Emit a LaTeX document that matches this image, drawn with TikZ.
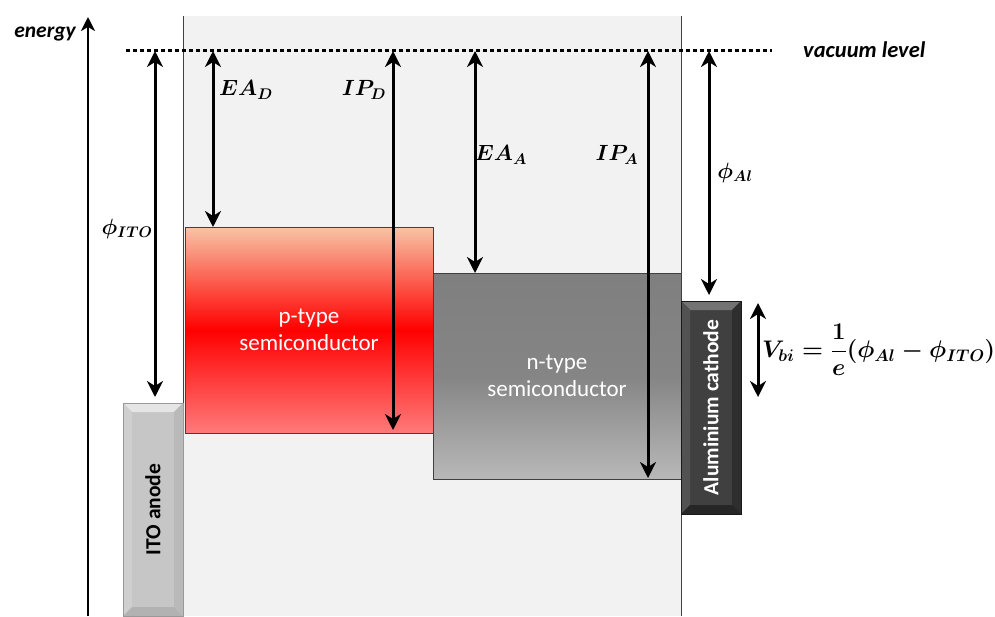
\RequirePackage{fix-cm}
\documentclass[tikz,border=0pt]{standalone}
\usepackage{amsmath}
\usepackage[no-math]{fontspec}
\setmainfont{Carlito}
\usetikzlibrary{arrows.meta,calc}

\definecolor{panelgray}{HTML}{F2F2F2}
\definecolor{ptop}{HTML}{F8C4A5}
\definecolor{pbot}{HTML}{FF7A7A}
\definecolor{ntop}{HTML}{7F7F7F}
\definecolor{nmid}{HTML}{858585}
\definecolor{nbot}{HTML}{B8B8B8}

% bevelled edges of an electrode node:
% #1 node, #2 depth, #3 top, #4 left, #5 right, #6 bottom, #7 outline
\newcommand\bevelfaces[7]{%
  \fill[#3] (#1.north west) -- (#1.north east) -- ($(#1.north east)+(-#2,#2)$) -- ($(#1.north west)+(#2,#2)$) -- cycle;
  \fill[#4] (#1.north west) -- ($(#1.north west)+(#2,#2)$) -- ($(#1.south west)+(#2,-#2)$) -- (#1.south west) -- cycle;
  \fill[#5] (#1.north east) -- ($(#1.north east)+(-#2,#2)$) -- ($(#1.south east)+(-#2,-#2)$) -- (#1.south east) -- cycle;
  \fill[#6] (#1.south west) -- ($(#1.south west)+(#2,-#2)$) -- ($(#1.south east)+(-#2,-#2)$) -- (#1.south east) -- cycle;
  \draw[#7, line width=0.8pt] (#1.north west) rectangle (#1.south east);
}

\begin{document}
\begin{tikzpicture}[x=1pt,y=-1pt,
  vaclevel/.style={line width=3pt, dash pattern=on 3.5pt off 3.5pt},
  gap/.style={line width=3pt,
    {Stealth[length=16pt,width=16pt,inset=5pt]}-{Stealth[length=16pt,width=16pt,inset=5pt]}},
  axisarrow/.style={line width=2.5pt, -{Stealth[length=14pt,width=14pt,inset=4pt]}},
  layer/.style={rectangle, outer sep=0pt, inner sep=0pt, draw=black!75, line width=1pt,
    text=white, align=center, font=\fontsize{23}{27}\selectfont},
  electrode/.style={rectangle, outer sep=0pt, inner sep=0pt, minimum width=60, minimum height=213},
  electrodetext/.style={inner sep=0pt, font=\bfseries\fontsize{21.5}{26}\selectfont, rotate=90},
  lab/.style={inner sep=0pt, font=\fontsize{22}{26}\selectfont\boldmath},
  note/.style={inner sep=0pt, font=\bfseries\itshape\fontsize{21.5}{25}\selectfont},
]
\useasboundingbox (0,0) rectangle (995,616);

% device region
\fill[panelgray] (183,16) rectangle (681,616);
\draw[line width=1pt, black!75] (183,16) -- (183,616);
\draw[line width=1pt, black!75] (681,16) -- (681,616);

% organic layers
\node[layer, minimum width=248, minimum height=206,
      top color=ptop, bottom color=pbot, middle color=red] (p) at (309,330)
      {p-type\\semiconductor};
\node[layer, minimum width=248, minimum height=206,
      top color=ntop, bottom color=nbot, middle color=nmid] (n) at (557,376)
      {n-type\\semiconductor};

% electrodes
\node[electrode, fill=gray!45] (ito) at (153,509.5) {};
\bevelfaces{ito}{9}{gray!20}{gray!38}{gray!55}{gray!60}{gray!80}
\node[electrodetext, text=black] (itolab) at (ito.center) {ITO anode};

\node[electrode, fill=black!75] (al) at (711,407.5) {};
\bevelfaces{al}{9}{black!55}{black!68}{black!82}{black!85}{black!90}
\node[electrodetext, text=white] (allab) at (al.center) {Aluminium cathode};

% energy axis
\coordinate (e0) at (88,616);
\coordinate (e1) at (88,17);
\draw[axisarrow] (e0) -- (e1);
\node[note, anchor=base east] (energy) at (76,37) {energy};

% vacuum level
\coordinate (vac0) at (126,50);
\coordinate (vac1) at (772,50);
\draw[vaclevel] (vac0) -- (vac1);
\node[note, font=\bfseries\itshape\fontsize{22.5}{26}\selectfont, anchor=base west] (vaclab) at (803,57) {vacuum level};

% energy gaps measured from the vacuum level
\coordinate (vITO) at (155,51);
\coordinate (vEAD) at (213,51);
\coordinate (vIPD) at (393,51);
\coordinate (vEAA) at (475,51);
\coordinate (vIPA) at (648,51);
\coordinate (vAl)  at (709,51);
\coordinate (vbi)  at (758,0);

\draw[gap, shorten >=6pt] (vITO) -- (vITO |- ito.north);
\draw[gap] (vEAD) -- (vEAD |- p.north);
\draw[gap, shorten >=3pt] (vIPD) -- (vIPD |- p.south);
\draw[gap] (vEAA) -- (vEAA |- n.north);
\draw[gap, shorten >=1pt] (vIPA) -- (vIPA |- n.south);
\draw[gap, shorten >=6pt] (vAl) -- (vAl |- al.north);
\draw[gap, shorten <=2pt, shorten >=6pt] (vbi |- al.north) -- (vbi |- ito.north);

% labels
\node[lab] (lITO) at (127,229) {$\phi_{ITO}$};
\node[lab] (lEAD) at (246,90) {$EA_D$};
\node[lab] (lIPD) at (364,90) {$IP_D$};
\node[lab] (lEAA) at (501,155) {$EA_A$};
\node[lab] (lIPA) at (617,155) {$IP_A$};
\node[lab] (lAl)  at (735,173) {$\phi_{Al}$};
\node[lab, font=\fontsize{24}{28}\selectfont\boldmath, anchor=west] (lVbi) at (762,350)
  {$V_{bi}=\dfrac{1}{e}(\phi_{Al}-\phi_{ITO})$};
\end{tikzpicture}
\end{document}
